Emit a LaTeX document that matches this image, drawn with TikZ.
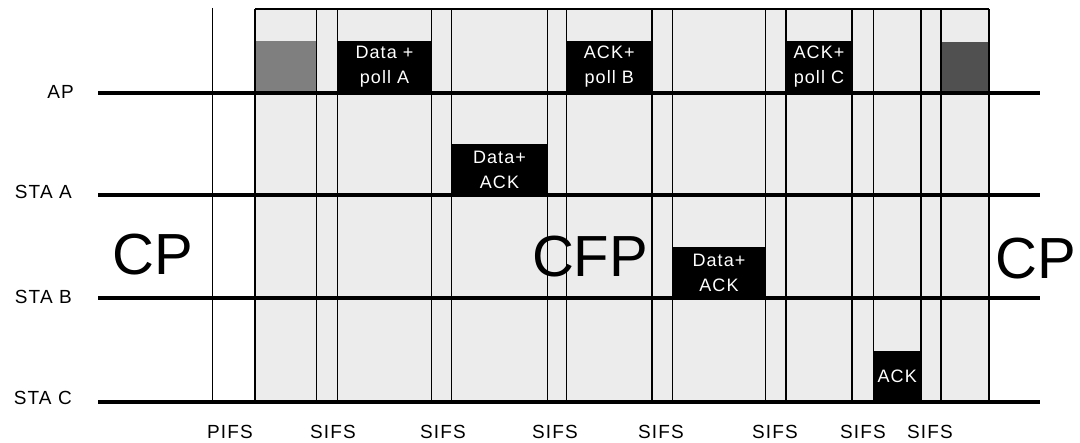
\documentclass[tikz,border=0pt]{standalone}
\usepackage{fontspec}
\setmainfont{Liberation Sans}
\newfontfamily\lblfont[LetterSpace=6]{Liberation Sans}
\definecolor{shadebg}{HTML}{ECECEC}
\definecolor{midgray}{HTML}{7F7F7F}
\definecolor{darkgray}{HTML}{505050}
\begin{document}
\begin{tikzpicture}[x=1pt,y=-1pt,
  lbl/.style={font=\lblfont\fontsize{19}{19}\selectfont, inner sep=0pt},
  big/.style={font=\fontsize{58}{58}\selectfont, inner sep=0pt},
  pkt/.style={fill=black, text=white, inner sep=0pt, outer sep=0pt, anchor=north west, align=center, font=\lblfont\fontsize{18}{25}\selectfont},
  blank/.style={inner sep=0pt, outer sep=0pt, anchor=north west},
  vline/.style={line width=1.9pt, black},
  hline/.style={line width=3.2pt, black},
]
\useasboundingbox (0,0) rectangle (1080,443);
\fill[white] (0,0) rectangle (1080,443);
% shaded contention-free region
\fill[shadebg] (255,9) rectangle (989,402);
% packets
\node[blank, fill=midgray, minimum width=61.5pt, minimum height=52pt] (g1) at (255,41) {};
\node[pkt, minimum width=94pt, minimum height=52pt] (pA) at (337.5,41) {Data +\\poll A};
\node[pkt, minimum width=96pt, minimum height=51pt] (aA) at (451.5,144) {Data+\\ACK};
\node[pkt, minimum width=85.5pt, minimum height=52pt] (pB) at (566.5,41) {ACK+\\poll B};
\node[pkt, minimum width=93pt, minimum height=51pt] (aB) at (672.5,247) {Data+\\ACK};
\node[pkt, minimum width=66pt, minimum height=52pt] (pC) at (786,41) {ACK+\\poll C};
\node[pkt, minimum width=47.5pt, minimum height=51pt] (aC) at (873.5,351) {ACK};
\node[blank, fill=darkgray, minimum width=48pt, minimum height=51pt] (g2) at (941,42) {};
% vertical grid lines
\draw[vline] (212.5,8) -- (212.5,402);
\draw[vline] (255,9) -- (989,9);
\foreach \x in {255,316.5,337.5,431.5,451.5,547.5,566.5,652,672.5,765.5,786,852,873.5,921,941,989}
  \draw[vline] (\x,9) -- (\x,402);
% station timelines
\node[lbl, anchor=east] (lAP) at (74,92) {AP};
\node[lbl, anchor=east] (lA) at (72,192) {STA A};
\node[lbl, anchor=east] (lB) at (72,297) {STA B};
\node[lbl, anchor=east] (lC) at (72,398) {STA C};
\coordinate (apS) at (98,93);  \coordinate (apE) at (1040,93);
\coordinate (aS) at (98,195);  \coordinate (aE) at (1040,195);
\coordinate (bS) at (98,298);  \coordinate (bE) at (1040,298);
\coordinate (cS) at (98,402);  \coordinate (cE) at (1040,402);
\draw[hline] (apS) -- (apE);
\draw[hline] (aS) -- (aE);
\draw[hline] (bS) -- (bE);
\draw[hline] (cS) -- (cE);
% period labels
\node[big] (cp1) at (153,255) {CP};
\node[big] (cfp) at (590,257) {CFP};
\node[big] (cp2) at (1036,259) {CP};
% interframe space labels
\node[lbl] (pifs) at (230,432) {PIFS};
\node[lbl] (s1) at (333,432) {SIFS};
\node[lbl] (s2) at (443,432) {SIFS};
\node[lbl] (s3) at (555,432) {SIFS};
\node[lbl] (s4) at (661,432) {SIFS};
\node[lbl] (s5) at (775,432) {SIFS};
\node[lbl] (s6) at (863,432) {SIFS};
\node[lbl] (s7) at (930,432) {SIFS};
\end{tikzpicture}
\end{document}
